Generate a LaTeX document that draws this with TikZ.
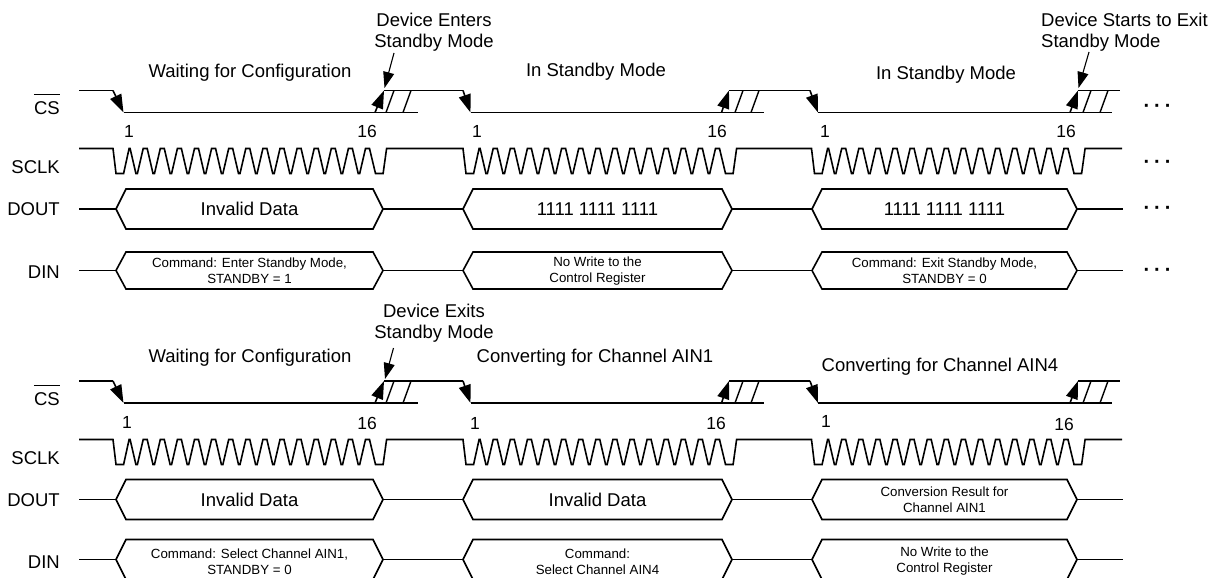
\documentclass[tikz,border=0pt]{standalone}
\usepackage{fontspec}
\setmainfont{Liberation Sans}
\usetikzlibrary{arrows.meta}
\newcommand\csrow[2]{%
 \draw[wave] (79,#1) -- (113,#1);
 \draw[wave,edgearrow] (113,#1) -- (123.5,#2);
 \draw[wave] (123.5,#2) -- (418,#2);
 \draw[wave,edgearrow] (375,#2) -- (384,#1);
 \draw[wave] (384,#1) -- (463,#1);
 \draw[hatch] (386,#2) -- (394,#1) (403,#2) -- (411,#1);
 \draw[wave,edgearrow] (463,#1) -- (470.5,#2);
 \draw[wave] (470.5,#2) -- (764,#2);
 \draw[wave,edgearrow] (721.5,#2) -- (729,#1);
 \draw[wave] (729,#1) -- (810,#1);
 \draw[hatch] (735,#2) -- (743,#1) (751,#2) -- (759,#1);
 \draw[wave,edgearrow] (810,#1) -- (818,#2);
 \draw[wave] (818,#2) -- (1112,#2);
 \draw[wave,edgearrow] (1070,#2) -- (1078,#1);
 \draw[wave] (1078,#1) -- (1120,#1);
 \draw[hatch] (1083,#2) -- (1091,#1) (1100,#2) -- (1108,#1);
}
\newcommand\sclkrow[2]{%
 \draw[wave] (79,#1) -- (113,#1)
  -- ++(3,#2) -- ++(7.6,0) -- ++(5.5,-#2) -- ++(1,0)
  \foreach \k in {1,...,14}{ -- ++(5.8,#2) -- ++(1.5,0) -- ++(5.8,-#2) -- ++(4,0)}
  -- ++(6,#2) -- ++(7.6,0) -- ++(3.5,-#2)
  -- (463,#1)
  -- ++(3,#2) -- ++(7.6,0) -- ++(5.5,-#2) -- ++(1,0)
  \foreach \k in {1,...,14}{ -- ++(5.8,#2) -- ++(1.5,0) -- ++(5.8,-#2) -- ++(4,0)}
  -- ++(6,#2) -- ++(7.6,0) -- ++(3.5,-#2)
  -- (811.5,#1)
  -- ++(3,#2) -- ++(7.6,0) -- ++(5.5,-#2) -- ++(1,0)
  \foreach \k in {1,...,14}{ -- ++(5.8,#2) -- ++(1.5,0) -- ++(5.8,-#2) -- ++(4,0)}
  -- ++(6,#2) -- ++(7.6,0) -- ++(3.5,-#2)
  -- (1122,#1);
}
\newcommand\hexrow[2]{% #1 mid, #2 half height
 \draw[wave] (79,#1) -- (116,#1);
 \draw[wave] (116,#1) -- (126,{#1-#2}) -- (373,{#1-#2}) -- (383,#1) -- (373,{#1+#2}) -- (126,{#1+#2}) -- cycle;
 \draw[wave] (383,#1) -- (463,#1);
 \draw[wave] (463,#1) -- (473,{#1-#2}) -- (722,{#1-#2}) -- (732,#1) -- (722,{#1+#2}) -- (473,{#1+#2}) -- cycle;
 \draw[wave] (732,#1) -- (812,#1);
 \draw[wave] (812,#1) -- (822,{#1-#2}) -- (1067,{#1-#2}) -- (1077,#1) -- (1067,{#1+#2}) -- (822,{#1+#2}) -- cycle;
 \draw[wave] (1077,#1) -- (1123,#1);
}
\newcommand\mydots{\textbf{·}\hspace{4pt}\textbf{·}\hspace{4pt}\textbf{·}}
\begin{document}
\begin{tikzpicture}[x=1pt,y=-1pt,
  wave/.style={line width=1.6pt,line join=miter},
  hatch/.style={line width=1.4pt},
  edgearrow/.style={-{Triangle[length=18pt,width=12pt]}},
  pointer/.style={line width=1.1pt,-{Triangle[length=16pt,width=11pt]}},
  big/.style={font=\fontsize{18.5}{21}\selectfont,inner sep=0pt},
  num/.style={font=\fontsize{17.5}{21}\selectfont,inner sep=0pt},
  small/.style={font=\fontsize{13.3}{16}\selectfont,inner sep=0pt,align=center},
  sig/.style={big,anchor=east},
  dots/.style={font=\fontsize{20}{21}\selectfont,inner sep=0pt,anchor=base}]
\useasboundingbox (0,0) rectangle (1208,578);
\clip (0,0) rectangle (1208,578);

% ================= TOP =================
\node[big] (ttl1) at (250,73) {Waiting for Configuration};
\node[big,align=center] (ann1) at (434,32) {Device Enters\\Standby Mode};
\node[big] (ttl2) at (596,72) {In Standby Mode};
\node[big] (ttl3) at (946,75) {In Standby Mode};
\node[big,align=left,anchor=west] (ann2) at (1041,32) {Device Starts to Exit\\Standby Mode};

\csrow{90.5}{112.5}
\coordinate (ann1s) at (394,53);
\coordinate (ann1e) at (384.5,88);
\draw[pointer] (ann1s) -- (ann1e);
\coordinate (ann2s) at (1089,52);
\coordinate (ann2e) at (1078.5,88);
\draw[pointer] (ann2s) -- (ann2e);

\node[sig] (cs1) at (60,108) {CS};
\draw[line width=1.2pt] ([yshift=7pt]cs1.north west) -- ([yshift=7pt]cs1.north east);
\node[sig] (sclk1) at (60,167) {SCLK};
\node[sig] (dout1) at (60,209) {DOUT};
\node[sig] (din1) at (60,272) {DIN};

\node[num] (n1) at (129,131) {1};
\node[num] (n2) at (367,131) {16};
\node[num] (n3) at (477,131) {1};
\node[num] (n4) at (717,131) {16};
\node[num] (n5) at (825,131) {1};
\node[num] (n6) at (1066,131) {16};

\sclkrow{148.5}{25}
\hexrow{209}{20}
\hexrow{270.5}{18.5}

\node[big] (do1) at (249.5,209) {Invalid Data};
\node[big] (do2) at (597.5,209) {1111 1111 1111};
\node[big] (do3) at (944.5,209) {1111 1111 1111};
\node[small] (di1) at (249.5,271) {Command: Enter Standby Mode,\\STANDBY = 1};
\node[small] (di2) at (597.5,271) {No Write to the\\Control Register};
\node[small] (di3) at (944.5,271) {Command: Exit Standby Mode,\\STANDBY = 0};

\node[dots] (d1) at (1157.5,112) {\mydots};
\node[dots] (d2) at (1157.5,168.5) {\mydots};
\node[dots] (d3) at (1157.5,214) {\mydots};
\node[dots] (d4) at (1157.5,276) {\mydots};

% ================= BOTTOM =================
\node[big] (ttl4) at (250,358) {Waiting for Configuration};
\node[big,align=center] (ann3) at (434,323.5) {Device Exits\\Standby Mode};
\node[big] (ttl5) at (595,358) {Converting for Channel AIN1};
\node[big] (ttl6) at (940,367) {Converting for Channel AIN4};

\csrow{381}{403}
\coordinate (ann3s) at (393.5,348);
\coordinate (ann3e) at (385,379);
\draw[pointer] (ann3s) -- (ann3e);

\node[sig] (cs2) at (60,399) {CS};
\draw[line width=1.2pt] ([yshift=7pt]cs2.north west) -- ([yshift=7pt]cs2.north east);
\node[sig] (sclk2) at (60,458) {SCLK};
\node[sig] (dout2) at (60,500) {DOUT};
\node[sig] (din2) at (60,562) {DIN};

\node[num] (m1) at (127,422) {1};
\node[num] (m2) at (367,423) {16};
\node[num] (m3) at (475,423) {1};
\node[num] (m4) at (716,423) {16};
\node[num] (m5) at (826,421) {1};
\node[num] (m6) at (1064,424) {16};

\sclkrow{439.5}{25}
\hexrow{499.5}{20}
\hexrow{559.5}{20}

\node[big] (eo1) at (249.5,499.5) {Invalid Data};
\node[big] (eo2) at (597.5,499.5) {Invalid Data};
\node[small] (eo3) at (944.5,500) {Conversion Result for\\Channel AIN1};
\node[small] (ei1) at (249.5,561.5) {Command: Select Channel AIN1,\\STANDBY = 0};
\node[small] (ei2) at (597.5,561.5) {Command:\\Select Channel AIN4};
\node[small] (ei3) at (944.5,561.5) {No Write to the\\Control Register};
\end{tikzpicture}
\end{document}
